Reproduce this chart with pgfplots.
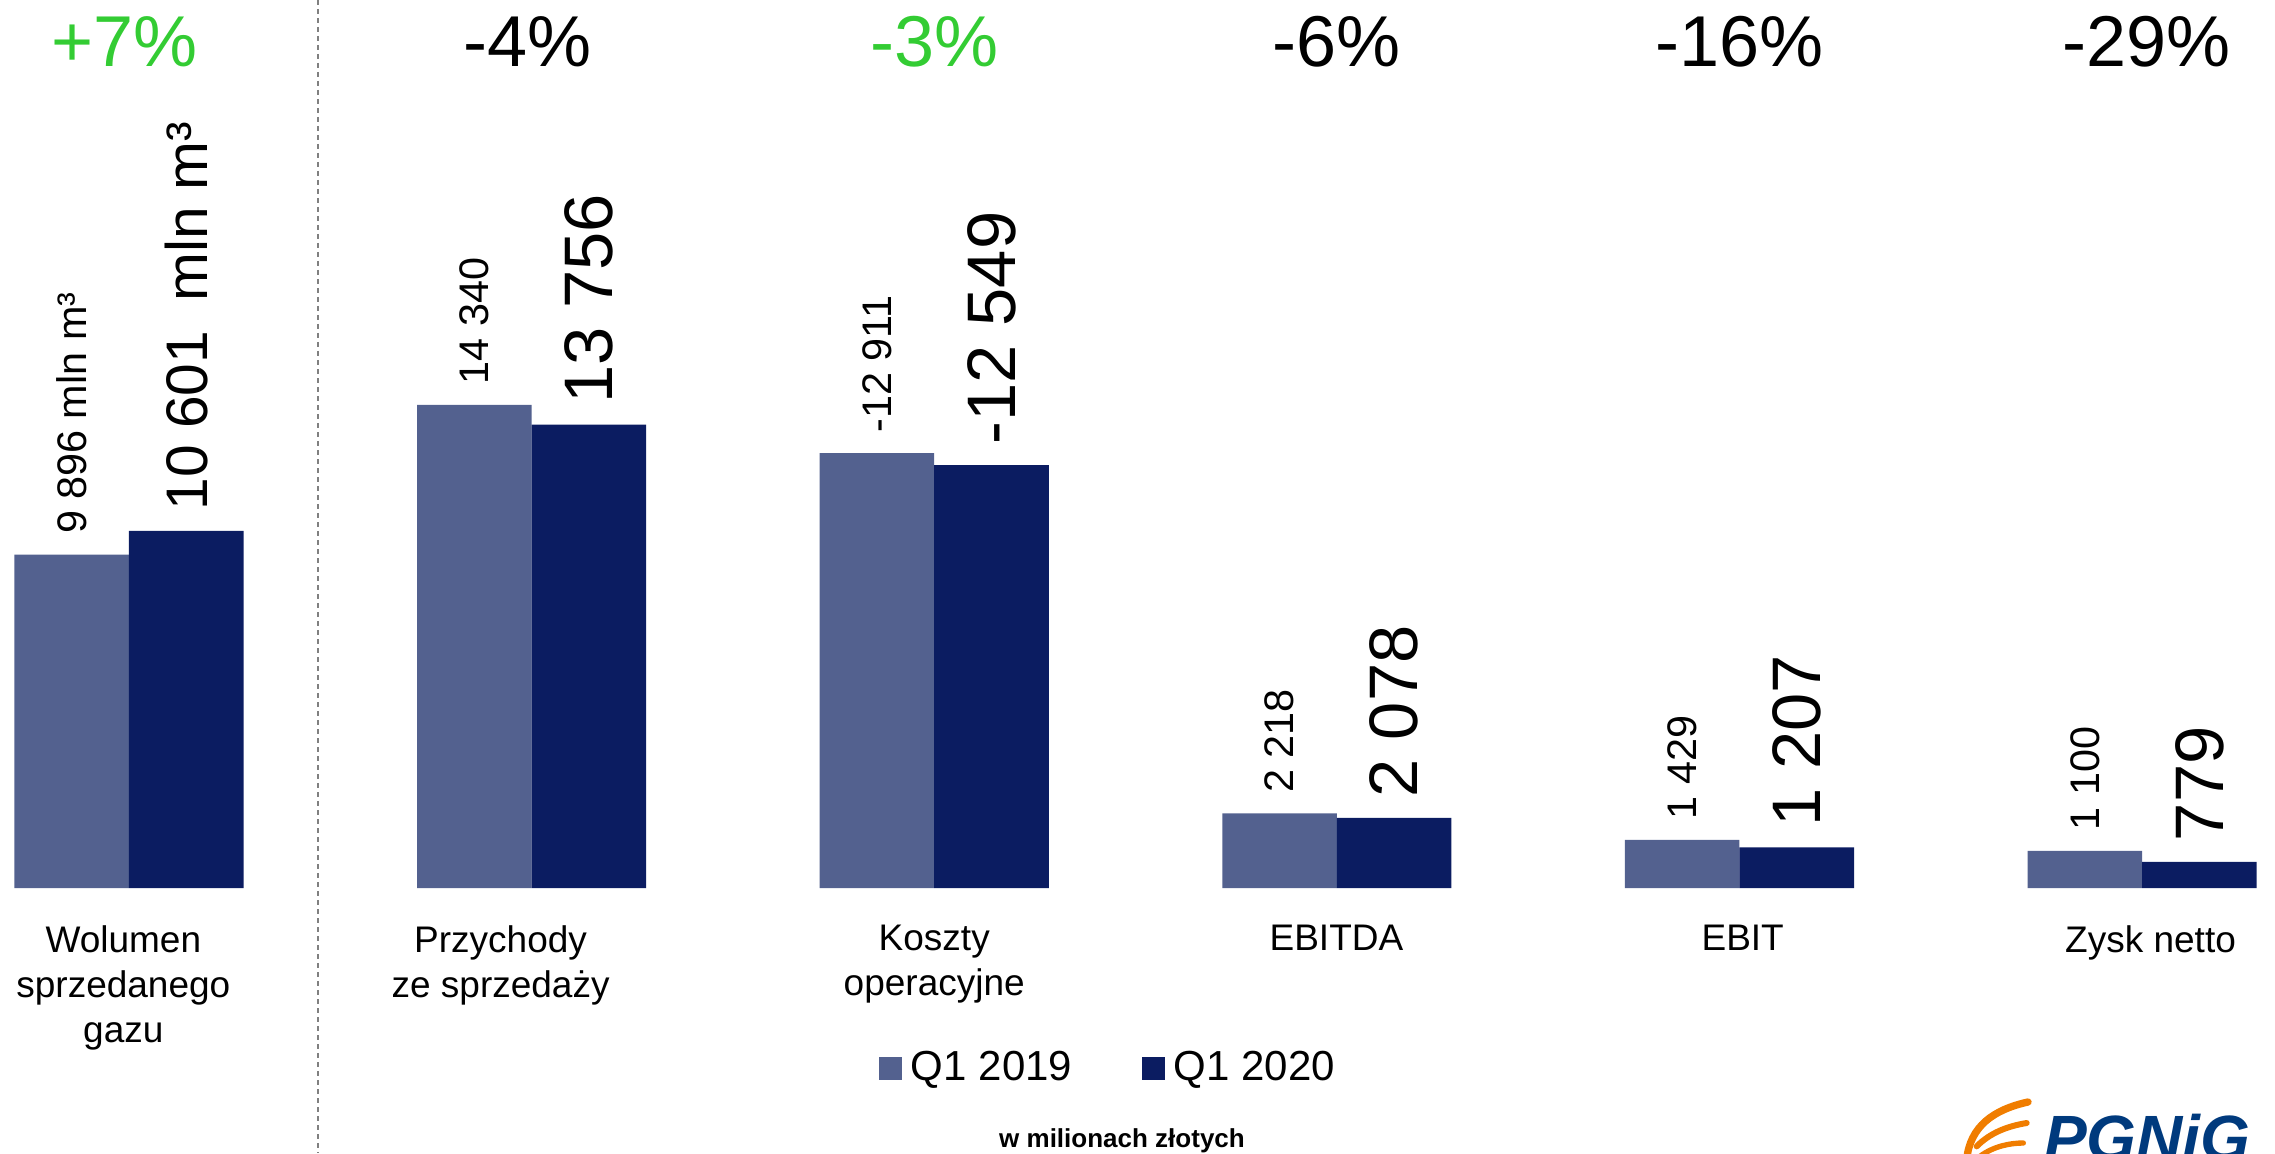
\documentclass[border=0pt]{standalone}
\usepackage{fontspec}
\setmainfont{Liberation Sans}
\usepackage{pgfplots}
\pgfplotsset{compat=1.18}
\definecolor{cA}{HTML}{53618F}
\definecolor{cB}{HTML}{0B1C61}
\definecolor{cG}{HTML}{33CC33}
\definecolor{pgblue}{HTML}{003A7D}
\definecolor{pgorange}{HTML}{F07D00}
\begin{document}
\begin{tikzpicture}[x=1pt,y=1pt]
\path[use as bounding box] (0,0) rectangle (682.5,345.9);
\begin{axis}[
  at={(2.46pt,79.5pt)}, anchor=south west,
  scale only axis, width=676.4pt, height=266.4pt,
  xmin=-0.3, xmax=5.3, ymin=0, ymax=26358,
  axis lines=none, clip=false,
  ybar=0pt, bar width=34.38pt,
  point meta=explicit symbolic,
  nodes near coords,
  every node near coord/.append style={rotate=90, anchor=west, inner xsep=6pt, inner ysep=0pt, text=black},
  legend columns=2,
  legend style={draw=none, at={(0.4874,-0.2027)}, anchor=center,
     font=\fontsize{12.6}{15}\selectfont,
     /tikz/every odd column/.append style={column sep=2.6pt},
     /tikz/every even column/.append style={column sep=21pt},
     nodes={inner xsep=0pt}},
  legend image code/.code={\fill[#1] (0pt,-3.45pt) rectangle (6.9pt,3.45pt);},
]
\addplot[fill=cA, draw=none, every node near coord/.append style={font=\fontsize{12.4}{14}\selectfont}]
  coordinates {(0,9896) [9 896 mln m³] (1,14340) [14 340] (2,12911) [-12 911] (3,2218) [2 218] (4,1429) [1 429] (5,1100) [1 100]};
\addlegendentry{Q1 2019}
\addplot[fill=cB, draw=none, every node near coord/.append style={font=\fontsize{20.6}{24}\selectfont}]
  coordinates {(0,10601) [\fontsize{17.6}{20}\selectfont 10 601\hspace{0.5em}mln m³] (1,13756) [13 756] (2,12549) [-12 549] (3,2078) [2 078] (4,1207) [1 207] (5,779) [779]};
\addlegendentry{Q1 2020}
% separator
\draw[gray, line width=0.6pt, dash pattern=on 1.5pt off 1.2pt] (axis cs:0.4695,26358) -- (axis cs:0.4695,-7866);
% change labels
\begin{scope}[every node/.style={anchor=base, font=\fontsize{21.6}{26}\selectfont, inner sep=0pt}]
\node[text=cG] at (axis cs:-0.01,24375) {+7\%};
\node at (axis cs:0.99,24375) {-4\%};
\node[text=cG] at (axis cs:2.0,24375) {-3\%};
\node at (axis cs:3.0,24375) {-6\%};
\node at (axis cs:4.0,24375) {-16\%};
\node at (axis cs:5.01,24375) {-29\%};
\end{scope}
% category labels
\begin{scope}[every node/.style={anchor=north, align=center, font=\fontsize{11.1}{13.5}\selectfont, inner sep=0pt}]
\node at (axis cs:-0.014,-1090) {Wolumen\\sprzedanego\\gazu};
\node at (axis cs:0.923,-1090) {Przychody\\ze sprzedaży};
\node at (axis cs:2.0,-1090) {Koszty\\operacyjne};
\node at (axis cs:2.999,-1090) {EBITDA};
\node at (axis cs:4.008,-1090) {EBIT};
\node at (axis cs:5.021,-1090) {Zysk netto};
\end{scope}
\end{axis}
\node[font=\bfseries\fontsize{7.8}{9}\selectfont, anchor=base] at (336.6,1.8) {w milionach złotych};
% logo
\node[font=\bfseries\itshape\fontsize{19.2}{22}\selectfont, text=pgblue, anchor=base west, inner sep=0pt] at (613,-2.1) {PGNiG};
\begin{scope}[pgorange, line cap=round]
\draw[line width=2.2pt] (590,-2) .. controls (591,8) and (598,13) .. (608.4,15.3);
\draw[line width=1.8pt] (593,2) .. controls (597,6) and (602,8) .. (608,9);
\draw[line width=1.6pt] (594,-1) .. controls (598,2) and (603,3) .. (607,3);
\end{scope}
\end{tikzpicture}
\end{document}
